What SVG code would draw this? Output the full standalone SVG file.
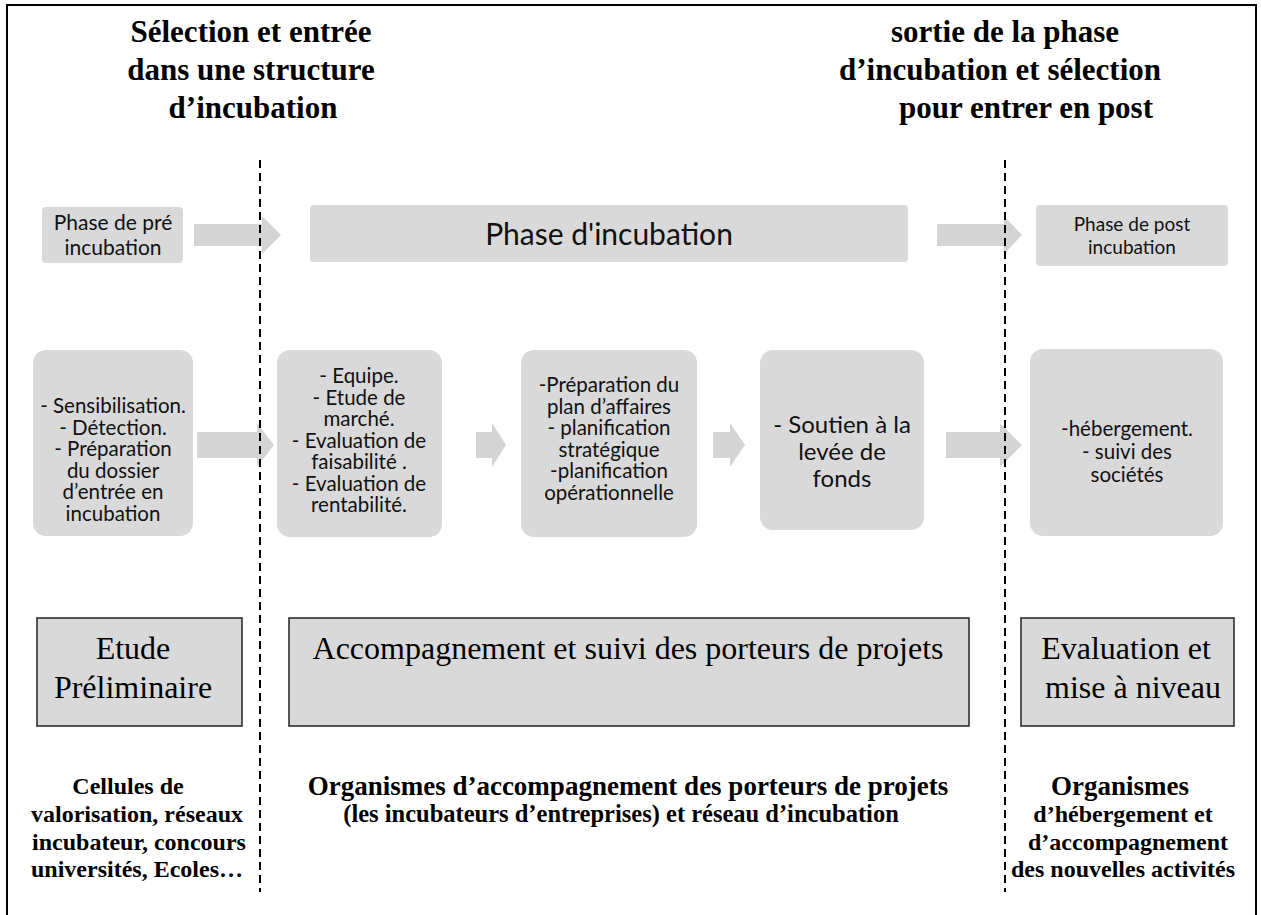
<svg xmlns="http://www.w3.org/2000/svg" width="1261" height="915" viewBox="0 0 1261 915">
  <style>
    .title { font-family: "Liberation Serif", "Times New Roman", serif; font-weight: bold; font-size: 31px; fill: #000; text-anchor: middle; }
    .org { font-family: "Liberation Serif", "Times New Roman", serif; font-weight: bold; font-size: 24px; fill: #000; text-anchor: middle; }
    .org-lg { font-size: 27px; }
    .org-md { font-size: 24.5px; }
    .phase { fill: #d9d9d9; }
    .step { fill: #d9d9d9; }
    .stage { fill: #d9d9d9; stroke: #222; stroke-width: 1.5; }
    .sans { font-family: Lato, "Open Sans", sans-serif; fill: #111; text-anchor: middle; }
    .list { font-size: 20.5px; }
    .serif { font-family: "Liberation Serif", "Times New Roman", serif; font-size: 32px; fill: #000; text-anchor: middle; }
    .flow { fill: #d4d4d4; }
    .divider { stroke: #000; stroke-width: 2; stroke-dasharray: 8 5; fill: none; }
  </style>

  <!-- frame -->
  <rect x="7" y="5" width="1249" height="930" fill="#fff" stroke="#000" stroke-width="2"/>

  <!-- section headings -->
  <g id="heading-entry">
    <text class="title" x="251" y="42">Sélection et entrée</text>
    <text class="title" x="251" y="80">dans une structure</text>
    <text class="title" x="253" y="118">d’incubation</text>
  </g>
  <g id="heading-exit">
    <text class="title" x="1005" y="42">sortie de la phase</text>
    <text class="title" x="1000" y="80">d’incubation et sélection</text>
    <text class="title" x="1026" y="118">pour entrer en post</text>
  </g>

  <!-- flow arrows -->
  <g id="connectors">
    <polygon class="flow" points="194,224 262,224 262,216 281,235 262,254 262,246 194,246"/>
    <polygon class="flow" points="937,224 1004,224 1004,216 1022,235 1004,254 1004,246 937,246"/>
    <polygon class="flow" points="197,432 257,432 257,423 274,445 257,467 257,458 197,458"/>
    <polygon class="flow" points="476,432 492,432 492,423 506,445 492,467 492,458 476,458"/>
    <polygon class="flow" points="713,432 730,432 730,423 745,445 730,467 730,458 713,458"/>
    <polygon class="flow" points="946,432 1000,432 1000,423 1022,445 1000,467 1000,458 946,458"/>
  </g>

  <!-- phases -->
  <g id="phase-pre">
    <rect class="phase" x="42" y="207" width="141" height="56" rx="4"/>
    <text class="sans" x="113" y="230" font-size="21">Phase de pré</text>
    <text class="sans" x="113" y="255" font-size="21">incubation</text>
  </g>
  <g id="phase-incubation">
    <rect class="phase" x="310" y="205" width="598" height="57" rx="4"/>
    <text class="sans" x="609" y="245" font-size="30">Phase d'incubation</text>
  </g>
  <g id="phase-post">
    <rect class="phase" x="1036" y="205" width="192" height="61" rx="4"/>
    <text class="sans" x="1132" y="231" font-size="19">Phase de post</text>
    <text class="sans" x="1132" y="254" font-size="19">incubation</text>
  </g>

  <!-- steps -->
  <g id="step-sensibilisation">
    <rect class="step" x="33" y="350" width="160" height="186" rx="13"/>
    <text class="sans list" x="113" y="413">- Sensibilisation.</text>
    <text class="sans list" x="113" y="434.5">- Détection.</text>
    <text class="sans list" x="113" y="456">- Préparation</text>
    <text class="sans list" x="113" y="477.5">du dossier</text>
    <text class="sans list" x="113" y="499">d’entrée en</text>
    <text class="sans list" x="113" y="520.5">incubation</text>
  </g>
  <g id="step-etudes">
    <rect class="step" x="277" y="350" width="165" height="187" rx="13"/>
    <text class="sans list" x="359" y="383">- Equipe.</text>
    <text class="sans list" x="359" y="404.5">- Etude de</text>
    <text class="sans list" x="359" y="426">marché.</text>
    <text class="sans list" x="359" y="447.5">- Evaluation de</text>
    <text class="sans list" x="359" y="469">faisabilité .</text>
    <text class="sans list" x="359" y="490.5">- Evaluation de</text>
    <text class="sans list" x="359" y="512">rentabilité.</text>
  </g>
  <g id="step-plan">
    <rect class="step" x="521" y="350" width="176" height="187" rx="13"/>
    <text class="sans list" x="609" y="392">-Préparation du</text>
    <text class="sans list" x="609" y="413.5">plan d’affaires</text>
    <text class="sans list" x="609" y="435">- planification</text>
    <text class="sans list" x="609" y="456.5">stratégique</text>
    <text class="sans list" x="609" y="478">-planification</text>
    <text class="sans list" x="609" y="499.5">opérationnelle</text>
  </g>
  <g id="step-fonds">
    <rect class="step" x="760" y="350" width="164" height="180" rx="13"/>
    <text class="sans" x="842" y="433" font-size="24">- Soutien à la</text>
    <text class="sans" x="842" y="460" font-size="24">levée de</text>
    <text class="sans" x="842" y="487" font-size="24">fonds</text>
  </g>
  <g id="step-hebergement">
    <rect class="step" x="1030" y="349" width="193" height="187" rx="13"/>
    <text class="sans" x="1127" y="436" font-size="20.5">-hébergement.</text>
    <text class="sans" x="1127" y="459" font-size="20.5">- suivi des</text>
    <text class="sans" x="1127" y="482" font-size="20.5">sociétés</text>
  </g>

  <!-- stages -->
  <g id="stage-etude">
    <rect class="stage" x="37" y="618" width="205" height="108"/>
    <text class="serif" x="133" y="659">Etude</text>
    <text class="serif" x="133" y="698">Préliminaire</text>
  </g>
  <g id="stage-accompagnement">
    <rect class="stage" x="289" y="618" width="680" height="108"/>
    <text class="serif" x="628" y="659">Accompagnement et suivi des porteurs de projets</text>
  </g>
  <g id="stage-evaluation">
    <rect class="stage" x="1021" y="618" width="213" height="108"/>
    <text class="serif" x="1126" y="659">Evaluation et</text>
    <text class="serif" x="1133" y="698">mise à niveau</text>
  </g>

  <!-- actors -->
  <g id="actors-entry">
    <text class="org" x="128" y="794">Cellules de</text>
    <text class="org" x="137" y="822">valorisation, réseaux</text>
    <text class="org" x="139" y="850">incubateur, concours</text>
    <text class="org" x="137" y="877">universités, Ecoles…</text>
  </g>
  <g id="actors-incubation">
    <text class="org org-lg" x="628" y="795">Organismes d’accompagnement des porteurs de projets</text>
    <text class="org org-md" x="621" y="822">(les incubateurs d’entreprises) et réseau d’incubation</text>
  </g>
  <g id="actors-post">
    <text class="org org-lg" x="1120" y="795">Organismes</text>
    <text class="org" x="1123" y="822">d’hébergement et</text>
    <text class="org" x="1128" y="850">d’accompagnement</text>
    <text class="org" x="1123" y="877">des nouvelles activités</text>
  </g>

  <!-- phase boundaries -->
  <g id="dividers">
    <line class="divider" x1="260" y1="160" x2="260" y2="892"/>
    <line class="divider" x1="1005" y1="160" x2="1005" y2="892"/>
  </g>
</svg>
